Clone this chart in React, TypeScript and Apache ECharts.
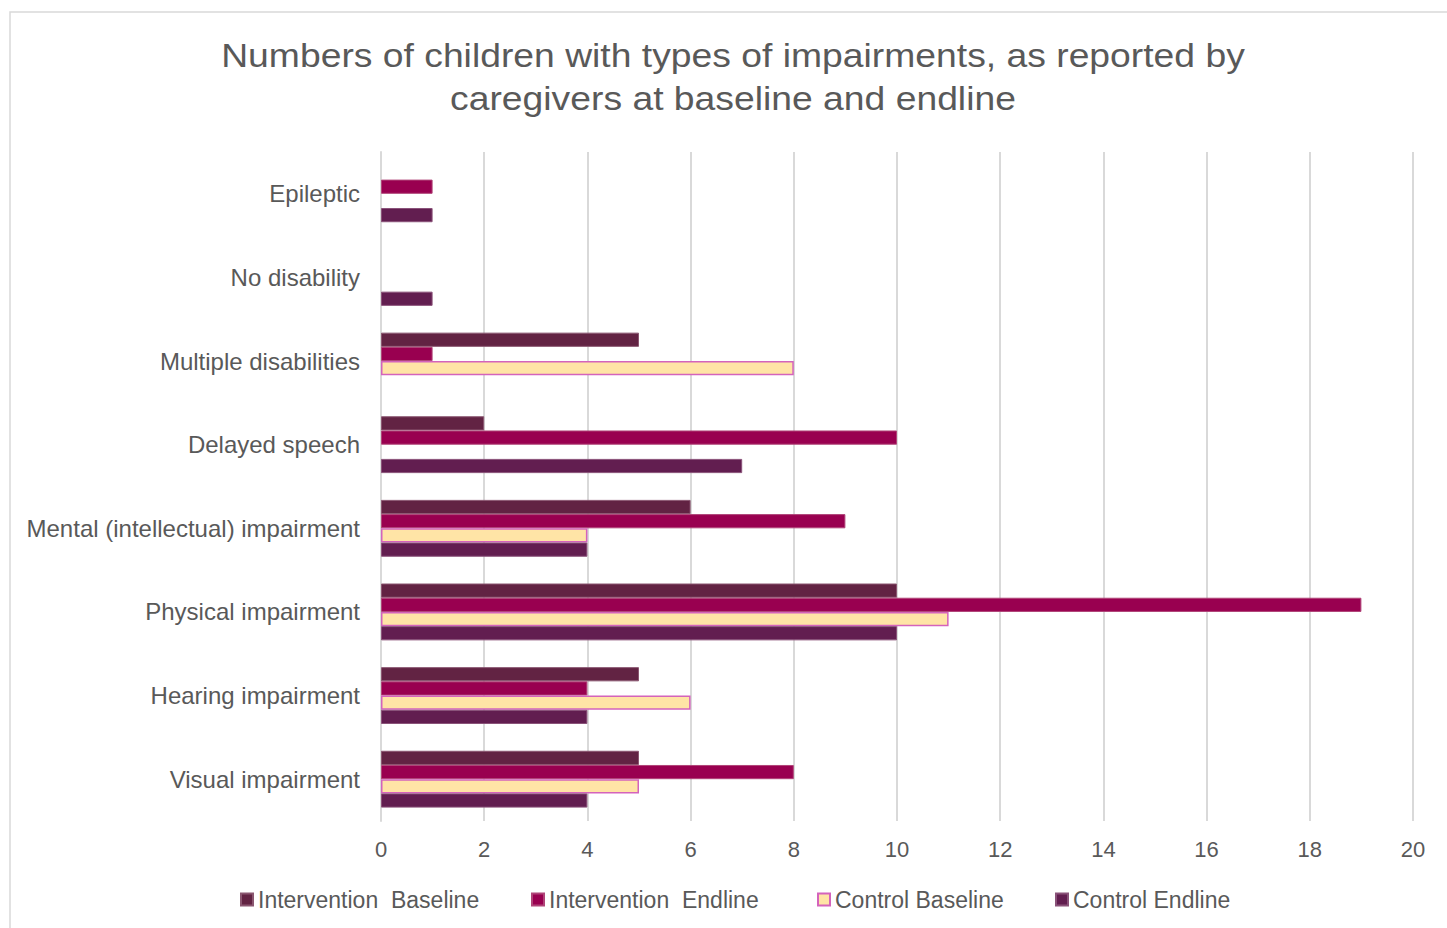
import React, { useEffect, useRef } from "react";
import * as echarts from "echarts";

const categories = [
  "Visual impairment",
  "Hearing impairment",
  "Physical impairment",
  "Mental (intellectual) impairment",
  "Delayed speech",
  "Multiple disabilities",
  "No disability",
  "Epileptic",
];
const seriesNames = [
  "Intervention  Baseline",
  "Intervention  Endline",
  "Control Baseline",
  "Control Endline",
];
const interventionBaseline = [5, 5, 10, 6, 2, 5, 0, 0];
const interventionEndline = [8, 4, 19, 9, 10, 1, 0, 1];
const controlBaseline = [5, 6, 11, 4, 0, 8, 0, 0];
const controlEndline = [4, 4, 10, 4, 7, 0, 1, 1];
const xTicks = [0, 20, 2];
const titleLines = [
  "Numbers of children with types of impairments, as reported by",
  "caregivers at baseline and endline",
];

const fills = ["#622343", "#990050", "#FFE4A6", "#621E50"];
const borders = ["#8A5670", "#B04478", "#D463BC", "#8A5279"];
const legendLeft = [235, 526, 812, 1050];

export default function App() {
  const ref = useRef<HTMLDivElement>(null);
  useEffect(() => {
    if (!ref.current) return;
    const chart = echarts.init(ref.current, undefined, { renderer: "svg" });
    const values = [interventionBaseline, interventionEndline, controlBaseline, controlEndline];
    const font = "'Liberation Sans', Arial, sans-serif";
    chart.setOption({
      animation: false,
      textStyle: { fontFamily: font },
      graphic: [
        {
          type: "rect",
          shape: { x: 10, y: 12, width: 1445, height: 930 },
          style: { fill: "none", stroke: "#D9D9D9", lineWidth: 1.5 },
          silent: true,
        },
        ...titleLines.map((t, i) => ({
          type: "text",
          x: 733,
          y: 55 + i * 43,
          scaleX: 1.13,
          style: {
            text: t,
            fill: "#595959",
            font: `33px ${font}`,
            textAlign: "center",
            textVerticalAlign: "middle",
          },
          silent: true,
        })),
      ],
      legend: seriesNames.map((name, i) => ({
        data: [name],
        top: 883,
        left: legendLeft[i],
        icon: "rect",
        itemWidth: 12,
        itemHeight: 12,
        itemGap: 0,
        textStyle: { fontSize: 23, color: "#595959", fontFamily: font },
      })),
      grid: { left: 381, right: 34, top: 152, bottom: 107, containLabel: false },
      xAxis: {
        type: "value",
        min: xTicks[0],
        max: xTicks[1],
        interval: xTicks[2],
        axisLine: { show: false },
        axisTick: { show: false },
        axisLabel: { fontSize: 22, color: "#595959", margin: 17, fontFamily: font },
        splitLine: { lineStyle: { color: "#D9D9D9", width: 2 } },
      },
      yAxis: {
        type: "category",
        data: categories,
        axisLine: { lineStyle: { color: "#D9D9D9", width: 2 } },
        axisTick: { show: false },
        axisLabel: { fontSize: 24, color: "#595959", margin: 21, fontFamily: font },
      },
      series: seriesNames.map((name, i) => ({
        name,
        type: "bar",
        data: values[i].map((v) => (v === 0 ? null : v)),
        barGap: "0%",
        barCategoryGap: "32%",
        itemStyle: {
          color: fills[i],
          borderColor: borders[i],
          borderWidth: i === 2 ? 1.5 : 1,
        },
      })),
    });
    return () => chart.dispose();
  }, []);
  return (
    <div
      ref={ref}
      style={{ position: "fixed", left: 0, top: 0, width: 1447, height: 928, background: "#fff" }}
    />
  );
}
